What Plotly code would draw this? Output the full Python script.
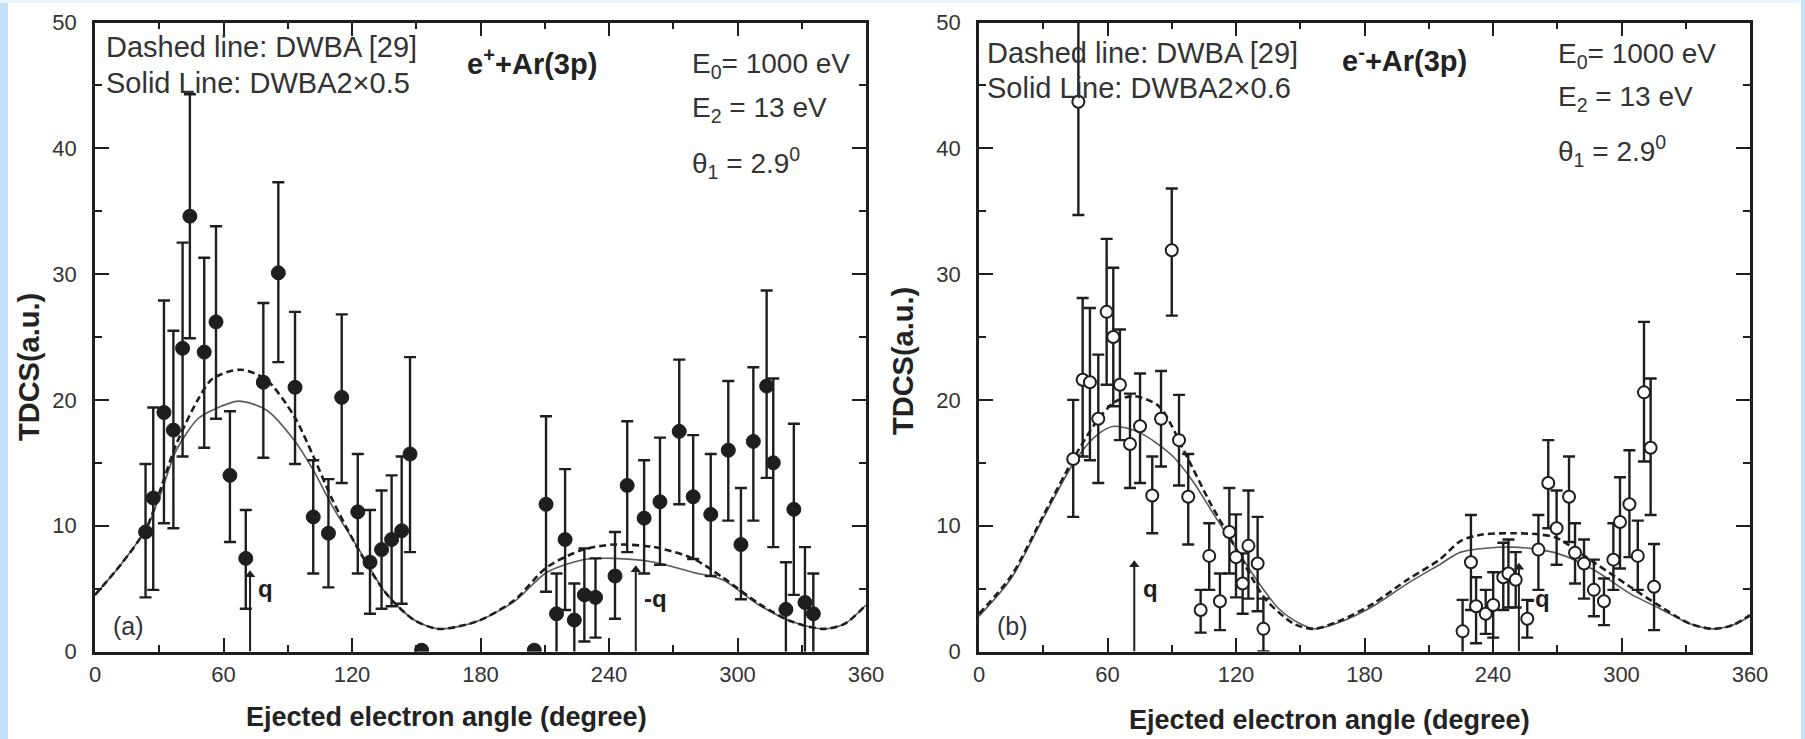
import plotly.graph_objects as go

# ---------------- data: panel (a) e+ + Ar(3p) ----------------
a_angle = [23.6, 27.2, 32.2, 36.6, 40.9, 44.3, 51.0, 56.5, 63.0, 70.4, 78.6, 85.6, 93.4,
           101.9, 109.0, 115.2, 122.7, 128.4, 133.8, 138.5, 143.2, 147.1, 152.5, 205.1,
           210.6, 215.5, 219.5, 223.8, 228.5, 233.7, 242.8, 248.5, 256.4, 263.8, 272.8,
           279.3, 287.5, 295.7, 301.6, 307.4, 313.6, 316.7, 322.6, 326.3, 331.5, 335.4]
a_tdcs = [9.5, 12.2, 19.0, 17.6, 24.1, 34.6, 23.8, 26.2, 14.0, 7.4, 21.4, 30.1, 21.0,
          10.7, 9.4, 20.2, 11.1, 7.1, 8.1, 8.9, 9.6, 15.7, 0.1, 0.1,
          11.7, 3.0, 8.9, 2.5, 4.5, 4.3, 6.0, 13.2, 10.6, 11.9, 17.5,
          12.3, 10.9, 16.0, 8.5, 16.7, 21.1, 15.0, 3.35, 11.3, 3.9, 3.0]
a_upper = [14.9, 19.4, 27.9, 25.5, 32.5, 44.3, 31.3, 33.8, 19.1, 11.25, 27.7, 37.3, 27.0,
           15.2, 13.7, 26.8, 15.7, 11.25, 12.8, 14.0, 15.5, 23.4, 0.1, 0.1,
           18.7, 6.2, 14.5, 5.4, 8.2, 7.4, 9.5, 18.3, 15.2, 17.0, 23.2,
           17.2, 15.7, 21.5, 13.0, 22.6, 28.7, 21.7, 7.1, 18.1, 8.3, 6.2]
a_lower = [4.3, 4.9, 10.2, 9.8, 15.5, 24.9, 16.2, 18.5, 8.7, 3.4, 15.4, 23.0, 14.9,
           6.2, 5.1, 13.4, 6.2, 3.0, 3.4, 3.6, 3.8, 7.9, 0.1, 0.1,
           4.75, -0.2, 3.3, -0.4, 0.8, 1.1, 2.6, 7.9, 6.2, 6.9, 11.7,
           7.35, 6.0, 10.4, 4.15, 10.4, 13.8, 8.3, -0.4, 4.5, -0.5, -0.2]

# ---------------- data: panel (b) e- + Ar(3p) ----------------
b_angle = [44.0, 46.4, 48.4, 51.8, 55.7, 59.6, 62.7, 65.8, 70.5, 75.2, 80.9, 85.0, 90.0,
           93.4, 97.7, 103.5, 107.5, 112.5, 116.9, 120.0, 123.1, 125.8, 130.1, 132.8,
           225.8, 229.7, 232.1, 236.6, 240.1, 244.8, 247.2, 250.6, 256.0, 261.2, 265.8,
           269.7, 275.5, 278.3, 282.5, 287.1, 291.8, 296.2, 299.3, 303.7, 307.6, 310.5,
           313.6, 315.2]
b_tdcs = [15.3, 43.7, 21.6, 21.4, 18.5, 27.0, 25.0, 21.2, 16.5, 17.9, 12.4, 18.5, 31.9,
          16.8, 12.3, 3.3, 7.6, 4.0, 9.5, 7.5, 5.4, 8.4, 7.0, 1.8,
          1.6, 7.1, 3.6, 3.0, 3.7, 5.9, 6.2, 5.7, 2.6, 8.1, 13.4,
          9.8, 12.3, 7.85, 7.0, 4.9, 4.0, 7.3, 10.3, 11.7, 7.6, 20.6,
          16.2, 5.15]
b_upper = [20.0, 52.7, 28.1, 27.3, 23.6, 32.8, 30.5, 25.6, 20.5, 22.1, 15.5, 22.3, 36.8,
           20.4, 15.7, 4.9, 10.2, 6.2, 13.0, 10.9, 7.8, 12.8, 10.7, 4.2,
           4.1, 10.85, 5.9, 4.9, 6.3, 8.65, 8.9, 7.9, 4.1, 10.85, 16.8,
           12.8, 15.5, 10.2, 8.9, 7.3, 5.8, 10.2, 13.85, 16.0, 10.4, 26.2,
           21.7, 8.55]
b_lower = [10.7, 34.7, 15.5, 15.2, 13.4, 21.2, 19.5, 16.8, 13.0, 13.4, 9.4, 14.7, 26.7,
           13.2, 8.5, 1.5, 4.9, 1.7, 6.2, 4.3, 3.0, 4.2, 3.2, 0.0,
           -0.9, 3.3, 0.65, 1.4, 1.1, 3.3, 3.5, 3.5, 1.1, 4.9, 9.8,
           6.9, 8.7, 5.4, 4.2, 2.8, 2.1, 4.9, 6.6, 7.5, 4.9, 15.1,
           10.85, 1.7]

# ---------------- theory curves ----------------
a_dwba_angle = [0, 12, 24, 31, 38, 48, 55, 68, 80, 93, 102, 111, 124, 136, 149, 160, 170,
                180, 196, 211, 228, 242, 261, 279, 293, 310, 325, 340, 350, 360]
a_dwba_val = [4.5, 6.9, 9.8, 13.1, 16.5, 20.0, 21.7, 22.4, 21.6, 18.7, 15.5, 12.0, 7.8, 4.6,
              2.5, 1.8, 2.0, 2.5, 4.1, 6.7, 8.1, 8.5, 8.3, 7.4, 5.9, 3.8, 2.4, 1.8, 2.2, 3.7]
a_dwba2_angle = [0, 12, 24, 31, 38, 48, 55, 67, 80, 93, 102, 111, 124, 136, 149, 160, 170,
                 180, 196, 211, 228, 242, 261, 279, 293, 310, 325, 340, 350, 360]
a_dwba2_val = [4.5, 6.9, 9.8, 12.7, 16.0, 18.5, 19.2, 19.9, 19.2, 16.8, 14.4, 11.5, 7.9, 4.6,
               2.5, 1.8, 2.0, 2.5, 4.0, 6.3, 7.3, 7.4, 7.1, 6.3, 5.7, 3.7, 2.4, 1.8, 2.2, 3.7]

b_dwba_angle = [0, 15, 30, 45, 55, 63, 72, 84, 97, 108, 117, 128, 134, 147, 156, 168, 184,
                200, 215, 225, 235, 250, 262, 270, 287, 304, 318, 332, 343, 352, 360]
b_dwba_val = [3.0, 6.0, 10.8, 15.6, 18.3, 19.8, 20.3, 19.5, 15.5, 11.8, 9.1, 5.7, 4.1, 2.2,
              1.8, 2.4, 3.8, 5.7, 7.3, 8.8, 9.3, 9.4, 9.3, 9.0, 7.1, 5.15, 3.6, 2.2, 1.8,
              2.1, 2.9]
b_dwba2_angle = [0, 15, 30, 45, 55, 63, 75, 90, 100, 110, 120, 130, 140, 150, 157, 168, 184,
                 200, 215, 225, 249, 270, 287, 304, 318, 332, 343, 352, 360]
b_dwba2_val = [2.8, 5.8, 10.6, 15.2, 17.2, 17.9, 17.4, 15.6, 13.5, 10.8, 8.2, 5.6, 3.4, 2.2,
               1.8, 2.3, 3.6, 5.4, 6.9, 7.9, 8.3, 7.8, 6.5, 4.6, 3.4, 2.2, 1.8, 2.1, 2.8]

# momentum-transfer arrows (q and -q)
a_arrow_angle = [72.4, 252.5]
a_arrow_tip = [6.1, 6.5]
b_arrow_angle = [72.5, 252.1]
b_arrow_tip = [6.9, 6.7]
arrow_labels = ["q", "-q"]

x_ticks = [0, 60, 120, 180, 240, 300, 360]
y_ticks = [0, 10, 20, 30, 40, 50]

# ---------------- figure ----------------
W, H = 1805, 739
def fx(p):
    return p / W
def fy(p):
    return 1 - p / H

INK = "#1e1e1e"
TXT = "#333333"
FONT = "Arial, Liberation Sans, sans-serif"

fig = go.Figure()

def add_panel(xa, ya, dw_x, dw_y, d2_x, d2_y, ang, val, up, lo, filled, arr_x, arr_y):
    fig.add_trace(go.Scatter(x=d2_x, y=d2_y, mode="lines", xaxis=xa, yaxis=ya,
                             line=dict(color="#5a5a5a", width=1.6, shape="spline", smoothing=0.8),
                             showlegend=False, hoverinfo="skip"))
    fig.add_trace(go.Scatter(x=dw_x, y=dw_y, mode="lines", xaxis=xa, yaxis=ya,
                             line=dict(color=INK, width=2.6, dash="7px,4px", shape="spline",
                                       smoothing=0.8),
                             showlegend=False, hoverinfo="skip"))
    # q arrows: shaft from the axis to the tip, plus a triangular head
    sx, sy = [], []
    for a, t in zip(arr_x, arr_y):
        sx += [a, a, None]
        sy += [0, t, None]
    fig.add_trace(go.Scatter(x=sx, y=sy, mode="lines", xaxis=xa, yaxis=ya,
                             line=dict(color=INK, width=2), showlegend=False,
                             hoverinfo="skip", cliponaxis=False))
    fig.add_trace(go.Scatter(x=arr_x, y=arr_y, mode="markers", xaxis=xa, yaxis=ya,
                             marker=dict(symbol="triangle-up", size=9, color=INK),
                             showlegend=False, hoverinfo="skip"))
    plus = [u - v for u, v in zip(up, val)]
    minus = [v - l for v, l in zip(val, lo)]
    if filled:
        marker = dict(symbol="circle", size=14, color=INK, line=dict(color=INK, width=1))
    else:
        marker = dict(symbol="circle", size=12, color="white", line=dict(color=INK, width=2))
    fig.add_trace(go.Scatter(x=ang, y=val, mode="markers", xaxis=xa, yaxis=ya,
                             marker=marker,
                             error_y=dict(type="data", symmetric=False, array=plus,
                                          arrayminus=minus, thickness=2.4, width=6, color=INK),
                             showlegend=False))

add_panel("x", "y", a_dwba_angle, a_dwba_val, a_dwba2_angle, a_dwba2_val,
          a_angle, a_tdcs, a_upper, a_lower, True, a_arrow_angle, a_arrow_tip)
add_panel("x2", "y2", b_dwba_angle, b_dwba_val, b_dwba2_angle, b_dwba2_val,
          b_angle, b_tdcs, b_upper, b_lower, False, b_arrow_angle, b_arrow_tip)

ydom = [fy(651.5), fy(22.5)]

def xaxis_cfg(dom, anchor):
    return dict(domain=dom, anchor=anchor, range=[0, 360], tickvals=x_ticks,
                ticks="inside", ticklen=14, tickwidth=2.4, tickcolor=INK,
                showline=True, linecolor=INK, linewidth=2.6, mirror="ticks",
                showgrid=False, zeroline=False,
                minor=dict(dtick=30, tick0=0, ticks="inside", ticklen=7, tickwidth=2.2,
                           tickcolor=INK, showgrid=False),
                tickfont=dict(family=FONT, size=22, color=TXT), ticklabelstandoff=1)

def yaxis_cfg(anchor):
    return dict(domain=ydom, anchor=anchor, range=[0, 50], tickvals=y_ticks,
                ticks="inside", ticklen=14, tickwidth=2.4, tickcolor=INK,
                showline=True, linecolor=INK, linewidth=2.6, mirror="ticks",
                showgrid=False, zeroline=False,
                minor=dict(dtick=5, tick0=0, ticks="inside", ticklen=7, tickwidth=2.2,
                           tickcolor=INK, showgrid=False),
                tickfont=dict(family=FONT, size=22, color=TXT), ticklabelstandoff=11)

ann = []

def txt(x, y, s, size, bold=False, color=TXT, xanchor="left", angle=0):
    ann.append(dict(x=fx(x), y=fy(y), xref="paper", yref="paper", text=s,
                    showarrow=False, xanchor=xanchor, yanchor="middle", textangle=angle,
                    font=dict(family=FONT, size=size, color=color,
                              weight="bold" if bold else "normal")))

# panel (a) texts
txt(104, 47, "Dashed line: DWBA [29]", 29)
txt(104, 83, "Solid Line: DWBA2×0.5", 29)
txt(465, 62, "e<sup>+</sup>+Ar(3p)", 29, bold=True, color="#222")
txt(690, 65, "E<sub>0</sub>= 1000 eV", 28)
txt(690, 109, "E<sub>2</sub> = 13 eV", 28)
txt(690, 163, "θ<sub>1</sub> = 2.9<sup>0</sup>", 28)
# panel (b) texts
txt(985, 53, "Dashed line: DWBA [29]", 29)
txt(985, 88, "Solid Line: DWBA2×0.6", 29)
txt(1340, 59, "e<sup>-</sup>+Ar(3p)", 29, bold=True, color="#222")
txt(1556, 56, "E<sub>0</sub>= 1000 eV", 28)
txt(1556, 98, "E<sub>2</sub> = 13 eV", 28)
txt(1556, 151, "θ<sub>1</sub> = 2.9<sup>0</sup>", 28)

# axis titles
txt(446, 717, "Ejected electron angle (degree)", 27, bold=True, color="#222", xanchor="center")
txt(1329, 720, "Ejected electron angle (degree)", 27, bold=True, color="#222", xanchor="center")
txt(29, 367, "TDCS(a.u.)", 29, bold=True, color="#222", xanchor="center", angle=-90)
txt(903, 361, "TDCS(a.u.)", 29, bold=True, color="#222", xanchor="center", angle=-90)

# panel labels and q labels
for xr, yr, lab, angs in (("x", "y", "(a)", a_arrow_angle), ("x2", "y2", "(b)", b_arrow_angle)):
    ann.append(dict(x=7.5, y=2.0, xref=xr, yref=yr, text=lab, showarrow=False,
                    xanchor="left", yanchor="middle",
                    font=dict(family=FONT, size=25, color=TXT)))
    for ang, qlab in zip(angs, arrow_labels):
        ann.append(dict(x=ang + 3, y=5.0 if qlab == "q" else 4.2, xref=xr, yref=yr, text=qlab,
                        showarrow=False, xanchor="left", yanchor="middle",
                        font=dict(family=FONT, size=24, color=INK, weight="bold")))

shapes = [
    dict(type="rect", xref="paper", yref="paper", x0=0, x1=fx(8), y0=0, y1=1,
         fillcolor="#c3e1f8", line=dict(width=0), layer="below"),
    dict(type="rect", xref="paper", yref="paper", x0=0, x1=1, y0=fy(3), y1=1,
         fillcolor="#e9f5fd", line=dict(width=0), layer="below"),
    dict(type="rect", xref="paper", yref="paper", x0=fx(1801), x1=1, y0=0, y1=1,
         fillcolor="#c6e3f8", line=dict(width=0), layer="below"),
]

fig.update_layout(
    width=W, height=H,
    margin=dict(l=0, r=0, t=0, b=0, autoexpand=False),
    paper_bgcolor="white", plot_bgcolor="white",
    xaxis=xaxis_cfg([fx(95), fx(866)], "y"),
    yaxis=yaxis_cfg("x"),
    xaxis2=xaxis_cfg([fx(979), fx(1750)], "y2"),
    yaxis2=yaxis_cfg("x2"),
    annotations=ann, shapes=shapes, showlegend=False,
    font=dict(family=FONT),
)

fig.write_html("out.html", config={"displayModeBar": False},
               post_script="document.body.style.margin='0';document.body.style.overflow='hidden';")
